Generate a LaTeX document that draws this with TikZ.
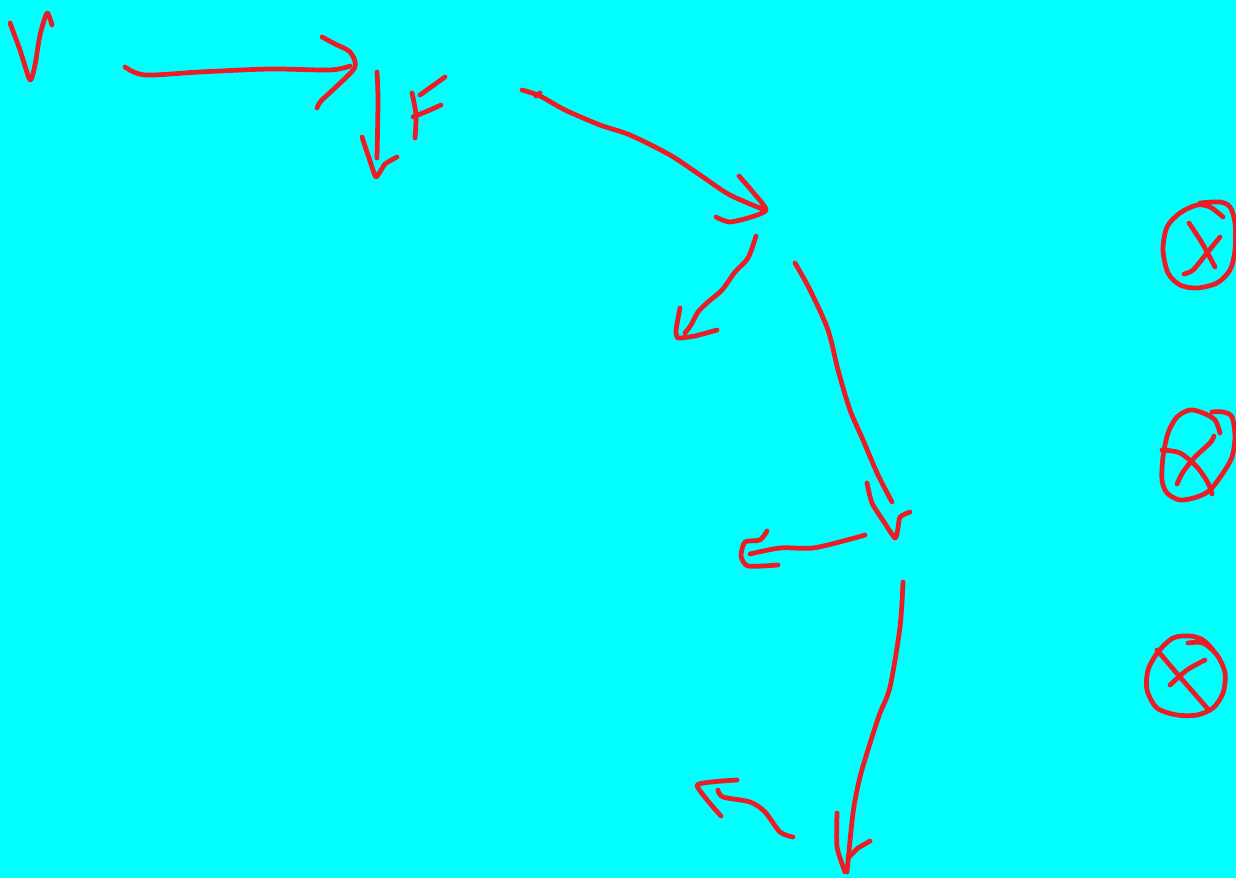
\documentclass[tikz,border=0pt]{standalone}
\definecolor{bgcyan}{RGB}{0,255,255}
\definecolor{penred}{RGB}{236,28,36}
\begin{document}
\begin{tikzpicture}[x=0.02cm,y=-0.02cm,
  stroke/.style={draw=penred, line width=2.7pt, line cap=round, line join=round}]
\fill[bgcyan] (0,0) rectangle (1236,878);
\useasboundingbox (0,0) rectangle (1236,878);
% V
\draw[stroke] plot[smooth,tension=0.4] coordinates {(10,23) (20,50) (30,80) (35,65) (40,35) (47,13) (52,25)};
% arrow 1 (horizontal)
\draw[stroke] plot[smooth,tension=0.5] coordinates {(125,67) (145,75) (200,72) (270,69) (330,70) (350,66)};
\draw[stroke] plot[smooth,tension=0.5] coordinates {(322,37) (335,44) (350,52) (355,67) (337,86) (321,101) (317,108)};
% down arrow near F
\draw[stroke] plot[smooth,tension=0.5] coordinates {(377,72) (378,100) (377,158)};
\draw[stroke] plot[smooth,tension=0.3] coordinates {(362,137) (369,158) (376,177) (385,164) (397,157)};
% F
\draw[stroke] plot[smooth,tension=0.5] coordinates {(412,93) (416,115) (415,138)};
\draw[stroke] (420,95) -- (445,77);
\draw[stroke] (413,117) -- (430,110) -- (441,105);
% arrow 2
\draw[stroke] plot[smooth,tension=0.5] coordinates {(522,90) (540,96) (565,110) (600,125) (630,135) (670,155) (700,175) (730,195) (765,210)};
\draw[stroke] (536,96) -- (540,93);
\draw[stroke] plot[smooth,tension=0.4] coordinates {(739,176) (752,191) (766,210) (748,218) (730,222) (720,219) (716,217)};
% arrow 3
\draw[stroke] plot[smooth,tension=0.5] coordinates {(756,236) (748,258) (735,272) (722,290) (708,302) (698,312) (691,325) (685,333)};
\draw[stroke] plot[smooth,tension=0.3] coordinates {(680,308) (676,330) (678,338) (695,336) (717,330)};
% arrow 4 (long curve)
\draw[stroke] plot[smooth,tension=0.5] coordinates {(795,263) (810,290) (828,330) (838,370) (850,410) (863,440) (878,475) (892,502)};
\draw[stroke] plot[smooth,tension=0.4] coordinates {(867,483) (872,503) (884,522) (895,538) (898,528) (900,517) (910,512)};
% arrow 5 (left)
\draw[stroke] plot[smooth,tension=0.5] coordinates {(865,535) (847,540) (813,548) (780,548) (750,554)};
\draw[stroke] plot[smooth,tension=0.4] coordinates {(767,531) (760,540) (745,542) (741,556) (748,566) (778,565)};
% arrow 6 (long down)
\draw[stroke] plot[smooth,tension=0.5] coordinates {(903,582) (900,627) (890,687) (880,713) (872,737) (860,777) (853,813) (847,872)};
\draw[stroke] plot[smooth,tension=0.4] coordinates {(837,813) (837,847) (845,872)};
\draw[stroke] (848,858) -- (858,848) -- (870,841);
% arrow 7 (bottom, up-left)
\draw[stroke] plot[smooth,tension=0.5] coordinates {(793,837) (780,832) (765,812) (750,802) (723,797) (718,790)};
\draw[stroke] plot[smooth,tension=0.3] coordinates {(737,780) (697,785) (721,816)};
% circle 1
\draw[stroke] plot[smooth,tension=0.5] coordinates {(1223,217) (1210,207) (1197,205) (1180,213) (1167,227) (1163,250) (1168,273) (1180,285) (1197,288) (1217,283) (1230,270) (1235,250) (1235,223) (1230,207) (1220,202) (1200,203)};
\draw[stroke] plot[smooth,tension=0.5] coordinates {(1189,223) (1202,243) (1215,267)};
\draw[stroke] plot[smooth,tension=0.5] coordinates {(1220,237) (1207,253) (1193,270) (1184,274)};
% circle 2
\draw[stroke] plot[smooth,tension=0.5] coordinates {(1220,433) (1215,420) (1203,413) (1190,410) (1177,417) (1168,433) (1163,457) (1162,480) (1167,493) (1180,500) (1197,497) (1210,490) (1223,473) (1232,457) (1235,437) (1232,417) (1223,412) (1212,412)};
\draw[stroke] plot[smooth,tension=0.5] coordinates {(1162,450) (1180,453) (1197,467) (1208,483) (1212,494)};
\draw[stroke] plot[smooth,tension=0.5] coordinates {(1214,436) (1210,443) (1195,457) (1183,472) (1177,484)};
% circle 3
\draw[stroke] plot[smooth,tension=0.5] coordinates {(1188,643) (1203,643) (1217,655) (1225,673) (1223,693) (1213,708) (1197,715) (1177,715) (1157,708) (1147,690) (1148,670) (1158,652) (1173,638) (1190,636) (1203,640) (1213,650)};
\draw[stroke] plot[smooth,tension=0.5] coordinates {(1157,650) (1180,677) (1207,708)};
\draw[stroke] plot[smooth,tension=0.5] coordinates {(1205,660) (1187,670) (1170,685)};
\end{tikzpicture}
\end{document}
